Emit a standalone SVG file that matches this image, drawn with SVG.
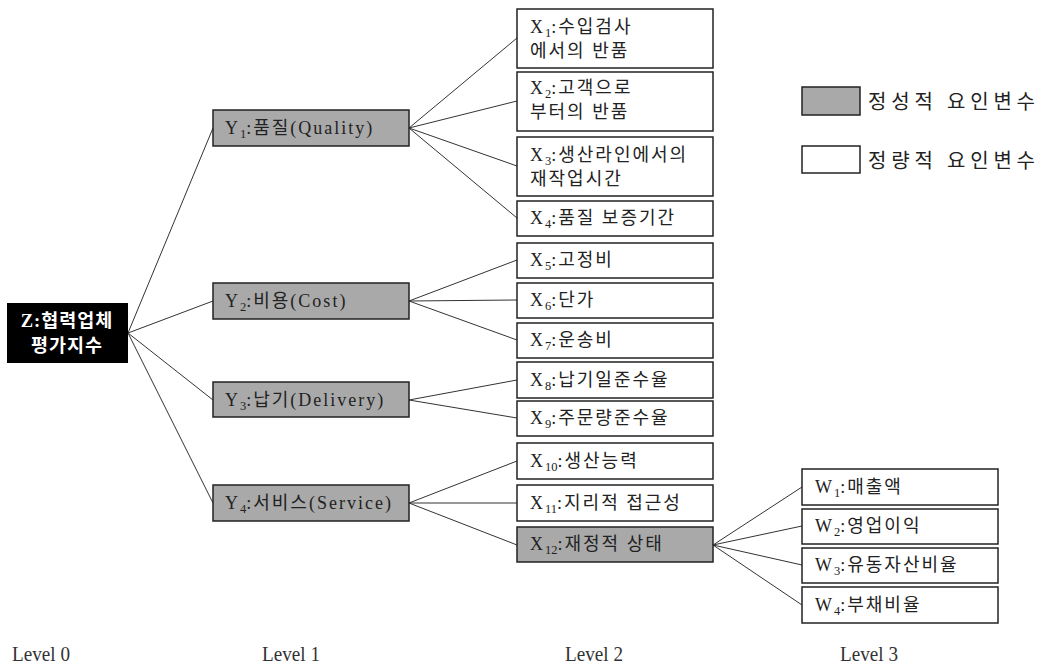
<svg xmlns="http://www.w3.org/2000/svg" width="1042" height="666" viewBox="0 0 1042 666">
<style>
.b{fill:#fff;stroke:#222;stroke-width:1.5}
.g{fill:#a9a9a9;stroke:#222;stroke-width:1.5}
.t{font-family:"Liberation Serif","Noto Sans CJK KR",serif;font-size:18px;fill:#222;letter-spacing:2px}
.s{font-size:12.5px;letter-spacing:0}
.z{font-family:"Liberation Serif","Noto Sans CJK KR",serif;font-size:18.5px;font-weight:bold;fill:#fff;text-anchor:middle;letter-spacing:1px}
.lv{font-family:"Liberation Serif",serif;font-size:21px;fill:#333}
.lg{font-family:"Noto Sans CJK KR",sans-serif;font-size:20px;fill:#222}
#connectors line{stroke:#333;stroke-width:1}
</style>
<rect width="1042" height="666" fill="#fff"/>
<g id="connectors">
<line x1="128" y1="333" x2="213" y2="128"/>
<line x1="128" y1="333" x2="213" y2="301"/>
<line x1="128" y1="333" x2="213" y2="400"/>
<line x1="128" y1="333" x2="213" y2="503"/>
<line x1="409" y1="128" x2="517" y2="38"/>
<line x1="409" y1="128" x2="517" y2="101"/>
<line x1="409" y1="128" x2="517" y2="166"/>
<line x1="409" y1="128" x2="517" y2="218"/>
<line x1="409" y1="301" x2="517" y2="260"/>
<line x1="409" y1="301" x2="517" y2="300"/>
<line x1="409" y1="301" x2="517" y2="340"/>
<line x1="409" y1="400" x2="517" y2="380"/>
<line x1="409" y1="400" x2="517" y2="418"/>
<line x1="409" y1="503" x2="517" y2="461"/>
<line x1="409" y1="503" x2="517" y2="503"/>
<line x1="409" y1="503" x2="517" y2="545"/>
<line x1="713" y1="545" x2="802" y2="487"/>
<line x1="713" y1="545" x2="802" y2="526"/>
<line x1="713" y1="545" x2="802" y2="565"/>
<line x1="713" y1="545" x2="802" y2="605"/>
</g>
<g id="Z"><rect x="7" y="303" width="121" height="60" fill="#000"/>
<text class="z" x="67" y="327">Z:협력업체</text><text class="z" x="67" y="352">평가지수</text></g>
<g id="Y1"><rect class="g" x="213" y="110" width="196" height="36"/><text class="t" x="225" y="134">Y<tspan class="s" dy="4">1</tspan><tspan dy="-4">:품질(Quality)</tspan></text></g>
<g id="Y2"><rect class="g" x="213" y="283" width="196" height="36"/><text class="t" x="225" y="307">Y<tspan class="s" dy="4">2</tspan><tspan dy="-4">:비용(Cost)</tspan></text></g>
<g id="Y3"><rect class="g" x="213" y="382" width="196" height="35"/><text class="t" x="225" y="406">Y<tspan class="s" dy="4">3</tspan><tspan dy="-4">:납기(Delivery)</tspan></text></g>
<g id="Y4"><rect class="g" x="213" y="485" width="196" height="36"/><text class="t" x="225" y="509">Y<tspan class="s" dy="4">4</tspan><tspan dy="-4">:서비스(Service)</tspan></text></g>
<g id="X1"><rect class="b" x="517" y="9" width="196" height="59"/><text class="t" x="530" y="33">X<tspan class="s" dy="4">1</tspan><tspan dy="-4">:수입검사</tspan></text><text class="t" x="530" y="57">에서의 반품</text></g>
<g id="X2"><rect class="b" x="517" y="72" width="196" height="59"/><text class="t" x="530" y="94">X<tspan class="s" dy="4">2</tspan><tspan dy="-4">:고객으로</tspan></text><text class="t" x="530" y="118">부터의 반품</text></g>
<g id="X3"><rect class="b" x="517" y="137" width="196" height="59"/><text class="t" x="530" y="161">X<tspan class="s" dy="4">3</tspan><tspan dy="-4">:생산라인에서의</tspan></text><text class="t" x="530" y="185">재작업시간</text></g>
<g id="X4"><rect class="b" x="517" y="201" width="196" height="35"/><text class="t" x="530" y="224">X<tspan class="s" dy="4">4</tspan><tspan dy="-4">:품질 보증기간</tspan></text></g>
<g id="X5"><rect class="b" x="517" y="243" width="196" height="35"/><text class="t" x="530" y="266">X<tspan class="s" dy="4">5</tspan><tspan dy="-4">:고정비</tspan></text></g>
<g id="X6"><rect class="b" x="517" y="283" width="196" height="35"/><text class="t" x="530" y="306">X<tspan class="s" dy="4">6</tspan><tspan dy="-4">:단가</tspan></text></g>
<g id="X7"><rect class="b" x="517" y="323" width="196" height="35"/><text class="t" x="530" y="346">X<tspan class="s" dy="4">7</tspan><tspan dy="-4">:운송비</tspan></text></g>
<g id="X8"><rect class="b" x="517" y="362" width="196" height="36"/><text class="t" x="530" y="386">X<tspan class="s" dy="4">8</tspan><tspan dy="-4">:납기일준수율</tspan></text></g>
<g id="X9"><rect class="b" x="517" y="401" width="196" height="35"/><text class="t" x="530" y="424">X<tspan class="s" dy="4">9</tspan><tspan dy="-4">:주문량준수율</tspan></text></g>
<g id="X10"><rect class="b" x="517" y="443" width="196" height="36"/><text class="t" x="530" y="467">X<tspan class="s" dy="4">10</tspan><tspan dy="-4">:생산능력</tspan></text></g>
<g id="X11"><rect class="b" x="517" y="485" width="196" height="36"/><text class="t" x="530" y="509">X<tspan class="s" dy="4">11</tspan><tspan dy="-4">:지리적 접근성</tspan></text></g>
<g id="X12"><rect class="g" x="517" y="527" width="196" height="35"/><text class="t" x="530" y="550">X<tspan class="s" dy="4">12</tspan><tspan dy="-4">:재정적 상태</tspan></text></g>
<g id="W1"><rect class="b" x="802" y="469" width="196" height="36"/><text class="t" x="815" y="493">W<tspan class="s" dy="4">1</tspan><tspan dy="-4">:매출액</tspan></text></g>
<g id="W2"><rect class="b" x="802" y="509" width="196" height="35"/><text class="t" x="815" y="532">W<tspan class="s" dy="4">2</tspan><tspan dy="-4">:영업이익</tspan></text></g>
<g id="W3"><rect class="b" x="802" y="548" width="196" height="35"/><text class="t" x="815" y="571">W<tspan class="s" dy="4">3</tspan><tspan dy="-4">:유동자산비율</tspan></text></g>
<g id="W4"><rect class="b" x="802" y="587" width="196" height="36"/><text class="t" x="815" y="611">W<tspan class="s" dy="4">4</tspan><tspan dy="-4">:부채비율</tspan></text></g>
<g id="legend">
<rect class="g" x="802" y="87" width="58" height="28"/>
<text class="lg" x="868" y="109" textLength="167" lengthAdjust="spacing">정성적 요인변수</text>
<rect class="b" x="802" y="146" width="58" height="27"/>
<text class="lg" x="868" y="168" textLength="167" lengthAdjust="spacing">정량적 요인변수</text>
</g>
<g id="levels">
<text class="lv" x="12" y="661" textLength="58" lengthAdjust="spacingAndGlyphs">Level 0</text>
<text class="lv" x="262" y="661" textLength="58" lengthAdjust="spacingAndGlyphs">Level 1</text>
<text class="lv" x="565" y="661" textLength="58" lengthAdjust="spacingAndGlyphs">Level 2</text>
<text class="lv" x="840" y="661" textLength="58" lengthAdjust="spacingAndGlyphs">Level 3</text>
</g>
</svg>
